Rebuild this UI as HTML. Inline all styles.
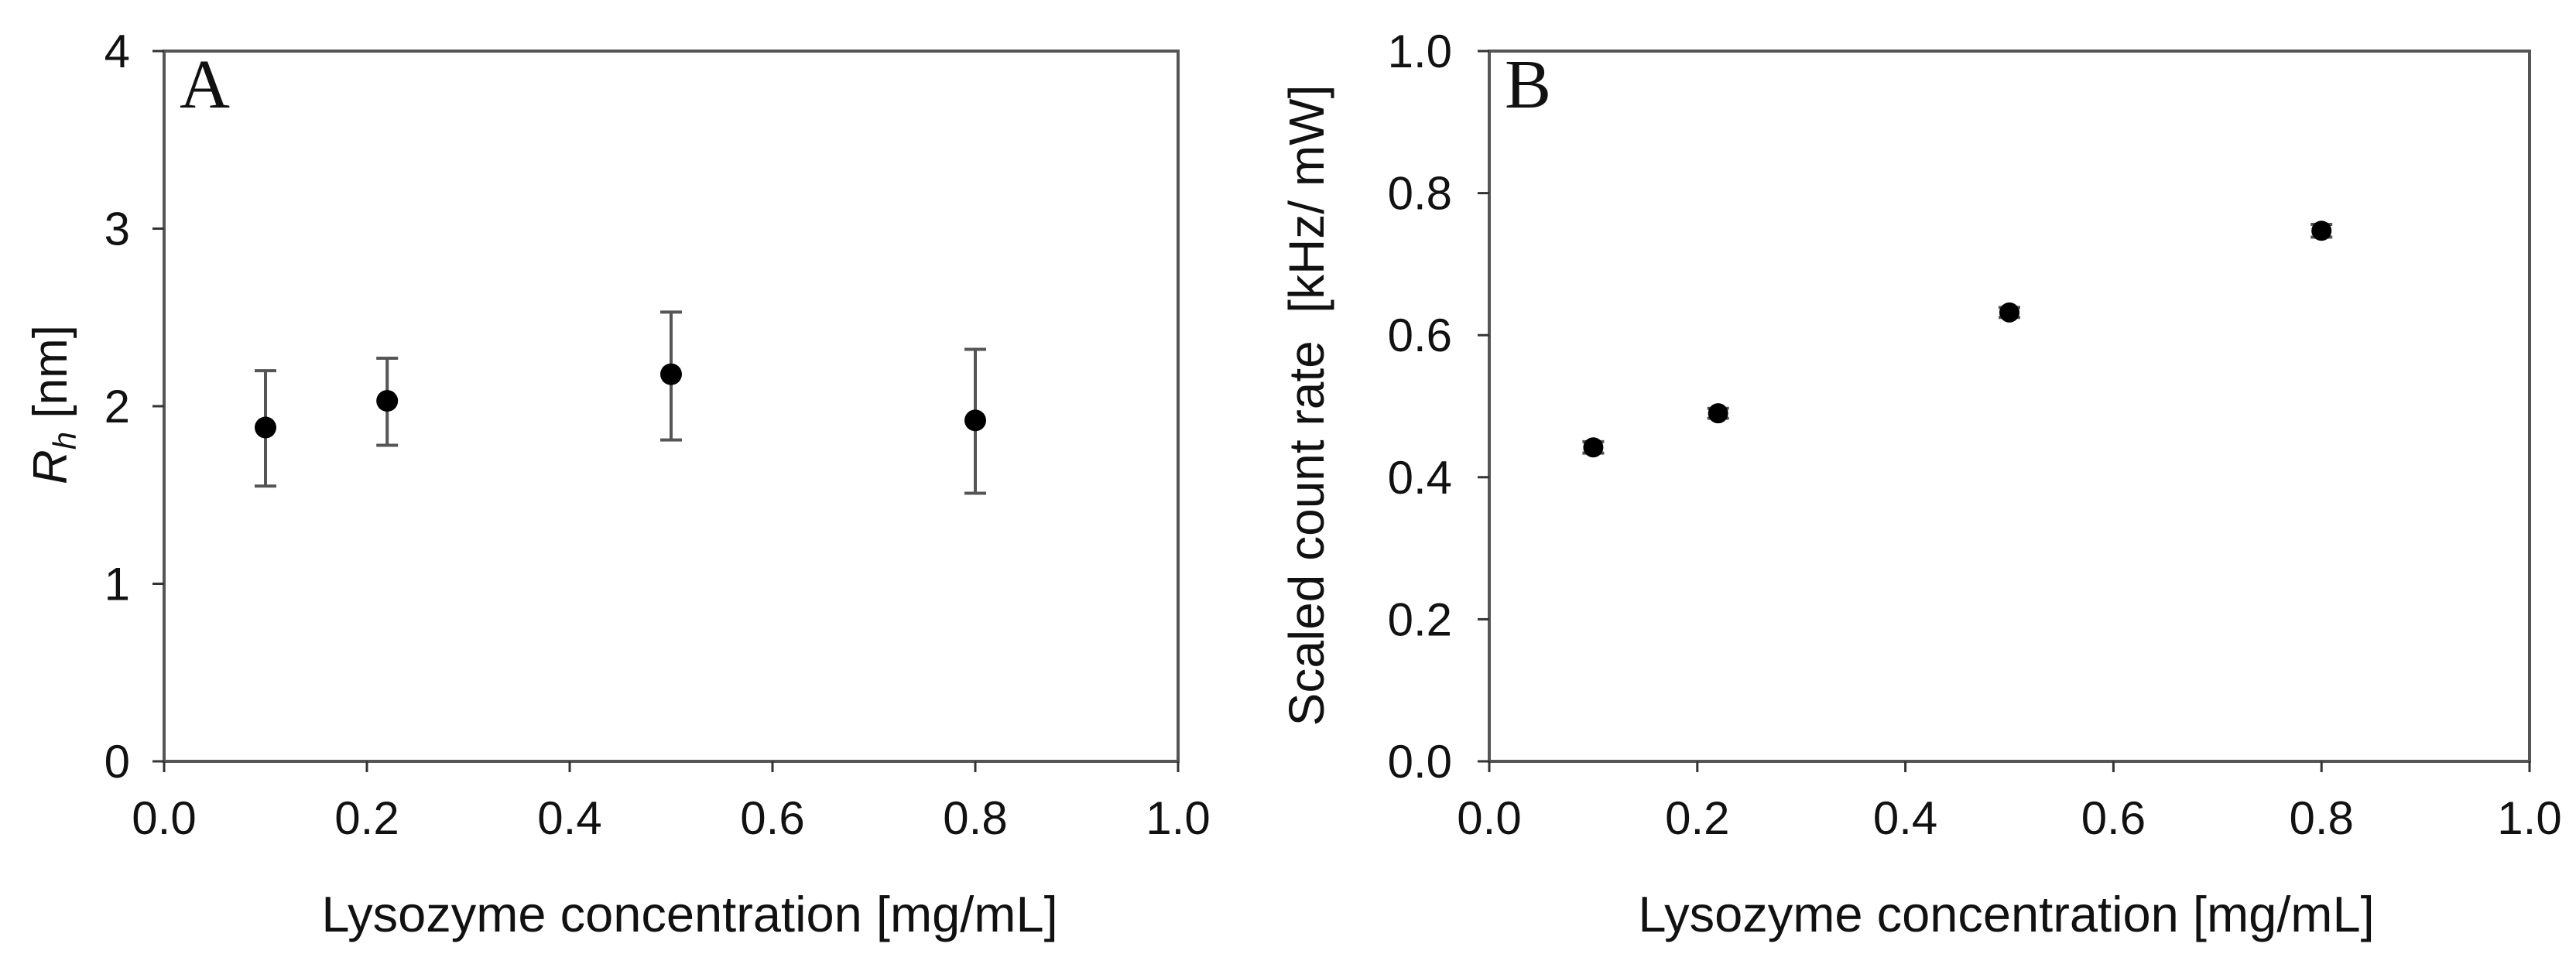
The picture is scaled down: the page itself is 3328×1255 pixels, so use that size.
<!DOCTYPE html>
<html><head><meta charset="utf-8"><style>
html,body{margin:0;padding:0;background:#fff;}
svg{display:block;font-family:"Liberation Sans",sans-serif;}
</style></head><body>
<svg id="fig" width="3328" height="1255" viewBox="0 0 3328 1255" xmlns="http://www.w3.org/2000/svg">
<g id="pa"></g>
<g id="pb"></g>
</svg>
<script>
const xTicks = [0.0, 0.2, 0.4, 0.6, 0.8, 1.0];
const xTickLabels = ["0.0", "0.2", "0.4", "0.6", "0.8", "1.0"];
const concA = [0.1, 0.22, 0.5, 0.8];
const rhValues = [1.88, 2.03, 2.18, 1.92];
const rhLower = [1.55, 1.78, 1.81, 1.51];
const rhUpper = [2.20, 2.27, 2.53, 2.32];
const yTicksA = [0, 1, 2, 3, 4];
const yTickLabelsA = ["0", "1", "2", "3", "4"];
const concB = [0.1, 0.22, 0.5, 0.8];
const countValues = [0.442, 0.490, 0.632, 0.747];
const countErr = [0.008, 0.007, 0.007, 0.009];
const yTicksB = [0.0, 0.2, 0.4, 0.6, 0.8, 1.0];
const yTickLabelsB = ["0.0", "0.2", "0.4", "0.6", "0.8", "1.0"];

const NS = "http://www.w3.org/2000/svg";
function mk(parent, tag, attrs, text){
  const e = document.createElementNS(NS, tag);
  for (const k in attrs) e.setAttribute(k, attrs[k]);
  if (text !== undefined) e.textContent = text;
  parent.appendChild(e);
  return e;
}
const AX = "#555";

function panel(g, cfg){
  const sx = v => cfg.x0 + (v - cfg.xmin) / (cfg.xmax - cfg.xmin) * (cfg.x1 - cfg.x0);
  const sy = v => cfg.yb - (v - cfg.ymin) / (cfg.ymax - cfg.ymin) * (cfg.yb - cfg.yt);
  const frame = mk(g, "rect", {x: cfg.x0, y: cfg.yt, width: cfg.x1 - cfg.x0, height: cfg.yb - cfg.yt, fill: "none", stroke: AX, "stroke-width": 4});
  
  
  xTicks.forEach((t, i) => {
    const x = sx(t);
    const tk = mk(g, "line", {x1: x, x2: x, y1: cfg.yb, y2: cfg.yb + 14, stroke: "#333", "stroke-width": 3});
    
    
    const lb = mk(g, "text", {x: x, y: 1078, "font-size": 60, "text-anchor": "middle", fill: "#111"}, xTickLabels[i]);
    
    
  });
  cfg.yTicks.forEach((t, i) => {
    const y = sy(t);
    const tk = mk(g, "line", {x1: cfg.x0 - 15, x2: cfg.x0, y1: y, y2: y, stroke: "#333", "stroke-width": 3});
    
    
    const lb = mk(g, "text", {x: cfg.ylabX, y: y + 21, "font-size": 60, "text-anchor": "end", fill: "#111"}, cfg.yTickLabels[i]);
    
    
  });
  cfg.xs.forEach((v, i) => {
    const x = sx(v);
    const lo = sy(cfg.lo[i]), hi = sy(cfg.hi[i]);
    const eb = mk(g, "path", {d: `M${x - 14},${hi}H${x + 14}M${x},${hi}V${lo}M${x - 14},${lo}H${x + 14}`, stroke: AX, "stroke-width": 4, fill: "none"});
    
    
    const pt = mk(g, "circle", {cx: x, cy: sy(cfg.ys[i]), r: cfg.r, fill: "#000"});
    
    
  });
  const pl = mk(g, "text", {x: cfg.x0 + 20, y: 139, "font-size": 90, "font-family": "Liberation Serif, serif", fill: "#111"}, cfg.letter);
  
  
  const xt = mk(g, "text", {x: (cfg.x0 + cfg.x1) / 2 + cfg.xtOff, y: 1204, "font-size": 65, "text-anchor": "middle", fill: "#111"}, "Lysozyme concentration [mg/mL]");
  
  
  return {sx, sy};
}

const ga = document.getElementById("pa");
panel(ga, {x0: 212, x1: 1522, yt: 66, yb: 984, xmin: 0, xmax: 1, ymin: 0, ymax: 4,
  yTicks: yTicksA, yTickLabels: yTickLabelsA, ylabX: 168,
  xs: concA, ys: rhValues, lo: rhLower, hi: rhUpper, r: 14, letter: "A", xtOff: 24});
const yta = mk(ga, "text", {transform: "translate(86,523) rotate(-90)", "font-size": 62, "text-anchor": "middle", fill: "#111"});


const r1 = mk(yta, "tspan", {"font-style": "italic"}, "R");
const r2 = mk(yta, "tspan", {"font-style": "italic", "font-size": 42, dy: 12}, "h");
const r3 = mk(yta, "tspan", {dy: -12}, " [nm]");

const gb = document.getElementById("pb");
panel(gb, {x0: 1924, x1: 3268, yt: 66, yb: 984, xmin: 0, xmax: 1, ymin: 0, ymax: 1,
  yTicks: yTicksB, yTickLabels: yTickLabelsB, ylabX: 1876,
  xs: concB, ys: countValues,
  lo: countValues.map((v, i) => v - countErr[i]), hi: countValues.map((v, i) => v + countErr[i]),
  r: 13, letter: "B", xtOff: -4});
const ytb = mk(gb, "text", {transform: "translate(1710,524) rotate(-90)", "font-size": 64, "text-anchor": "middle", fill: "#111", style: "white-space:pre"}, "Scaled count rate  [kHz/ mW]");


</script>
</body></html>
